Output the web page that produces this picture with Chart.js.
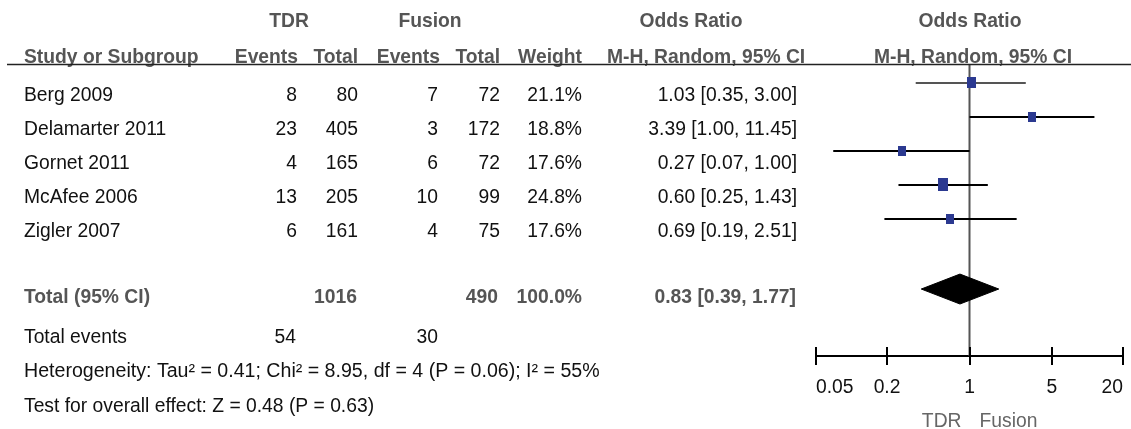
<!DOCTYPE html>
<html>
<head>
<meta charset="utf-8">
<script src="https://cdn.jsdelivr.net/npm/chart.js@4/dist/chart.umd.min.js"></script>
<style>
  html, body { margin: 0; padding: 0; background: #fff; }
  #wrap { position: relative; width: 1131px; height: 429px; }
</style>
</head>
<body>
<div id="wrap"><canvas id="forest"></canvas></div>
<script>
// Forest plot: TDR vs Fusion, odds ratio (M-H, random, 95% CI)

const studies      = ['Berg 2009', 'Delamarter 2011', 'Gornet 2011', 'McAfee 2006', 'Zigler 2007'];
const tdrEvents    = [8, 23, 4, 13, 6];
const tdrTotal     = [80, 405, 165, 205, 161];
const fusionEvents = [7, 3, 6, 10, 4];
const fusionTotal  = [72, 172, 72, 99, 75];
const weights      = [21.1, 18.8, 17.6, 24.8, 17.6];
const oddsRatio    = [1.03, 3.39, 0.27, 0.60, 0.69];
const ciLow        = [0.35, 1.00, 0.07, 0.25, 0.19];
const ciHigh       = [3.00, 11.45, 1.00, 1.43, 2.51];

const pooled       = [0.39, 0.83, 1.77];   // low, OR, high
const totalN       = [1016, 490];          // TDR, Fusion
const totalEvents  = [54, 30];
const xTicks       = [0.05, 0.2, 1, 5, 20];

const heterogeneity = 'Heterogeneity: Tau² = 0.41; Chi² = 8.95, df = 4 (P = 0.06); I² = 55%';
const overallEffect = 'Test for overall effect: Z = 0.48 (P = 0.63)';

// layout helpers (rows on the y scale: studies 0..4, pooled row 6)
const Y_MIN = -0.555, Y_MAX = 8.03, POOLED_ROW = 6.06;
const FONT = '"Liberation Sans", Arial, Helvetica, sans-serif';
const SIZE = 19.3;
const HEAD = '#555';
const INK = '#111';
const SQUARE = '#2b3990';

const fmtOR = (o, l, h) => `${o.toFixed(2)} [${l.toFixed(2)}, ${h.toFixed(2)}]`;

function squareFor(w) {
  const c = document.createElement('canvas');
  c.width = Math.round(2 + w * 0.33);
  c.height = Math.round(c.width * 1.25);
  const g = c.getContext('2d');
  g.fillStyle = SQUARE;
  g.fillRect(0, 0, c.width, c.height);
  return c;
}

const tablePlugin = {
  id: 'forestTable',
  afterDraw(chart) {
    const { ctx } = chart;
    const x = chart.scales.x, y = chart.scales.y;
    ctx.save();

    const text = (s, px, py, align, bold, color, size) => {
      ctx.font = (bold ? 'bold ' : '') + (size || SIZE) + 'px ' + FONT;
      ctx.fillStyle = color || INK;
      ctx.textAlign = align;
      ctx.textBaseline = 'alphabetic';
      ctx.fillText(s, px, py);
    };

    // headers
    text('TDR', 289, 27, 'center', true, HEAD);
    text('Fusion', 430, 27, 'center', true, HEAD);
    text('Odds Ratio', 691, 27, 'center', true, HEAD);
    text('Odds Ratio', 970, 27, 'center', true, HEAD);
    text('Study or Subgroup', 24, 63, 'left', true, HEAD);
    text('Events', 298, 63, 'right', true, HEAD);
    text('Total', 358, 63, 'right', true, HEAD);
    text('Events', 440, 63, 'right', true, HEAD);
    text('Total', 500, 63, 'right', true, HEAD);
    text('Weight', 582, 63, 'right', true, HEAD);
    text('M-H, Random, 95% CI', 607, 63, 'left', true, HEAD);
    text('M-H, Random, 95% CI', 973, 63, 'center', true, HEAD);

    ctx.strokeStyle = '#222';
    ctx.lineWidth = 1.5;
    ctx.beginPath();
    ctx.moveTo(7, 64.5);
    ctx.lineTo(1131, 64.5);
    ctx.stroke();

    // study rows
    studies.forEach((s, i) => {
      const by = y.getPixelForValue(i) + 18;
      text(s, 24, by, 'left');
      text(String(tdrEvents[i]), 297, by, 'right');
      text(String(tdrTotal[i]), 358, by, 'right');
      text(String(fusionEvents[i]), 438, by, 'right');
      text(String(fusionTotal[i]), 500, by, 'right');
      text(weights[i].toFixed(1) + '%', 582, by, 'right');
      text(fmtOR(oddsRatio[i], ciLow[i], ciHigh[i]), 797, by, 'right');
    });

    // pooled row
    const ty = y.getPixelForValue(POOLED_ROW) + 14;
    text('Total (95% CI)', 24, ty, 'left', true, HEAD);
    text(String(totalN[0]), 357, ty, 'right', true, HEAD);
    text(String(totalN[1]), 498, ty, 'right', true, HEAD);
    text('100.0%', 582, ty, 'right', true, HEAD);
    text(fmtOR(pooled[1], pooled[0], pooled[2]), 796, ty, 'right', true, HEAD);

    text('Total events', 24, 343, 'left');
    text(String(totalEvents[0]), 296, 343, 'right');
    text(String(totalEvents[1]), 438, 343, 'right');
    text(heterogeneity, 24, 376.5, 'left', false, INK, 19.6);
    text(overallEffect, 24, 411.5, 'left');

    // upper half of the axis tick marks
    const base = chart.chartArea.bottom;
    ctx.strokeStyle = '#000';
    ctx.lineWidth = 2;
    xTicks.forEach(v => {
      const px = Math.round(x.getPixelForValue(v));
      ctx.beginPath();
      ctx.moveTo(px, base - 9);
      ctx.lineTo(px, base);
      ctx.stroke();
    });

    // favours labels
    const one = x.getPixelForValue(1);
    text('TDR', one - 8, 427, 'right', false, '#666');
    text('Fusion', one + 10, 427, 'left', false, '#666');

    ctx.restore();
  }
};

const ciSets = studies.map((s, i) => ({
  type: 'line',
  label: s,
  data: [{ x: ciLow[i], y: i }, { x: ciHigh[i], y: i }],
  borderColor: i === 0 ? '#555' : '#000',
  borderWidth: 2,
  pointRadius: 0,
  order: 2,
}));

new Chart(document.getElementById('forest'), {
  type: 'scatter',
  data: {
    datasets: [
      {
        type: 'line',
        label: 'no effect',
        data: [{ x: 1, y: Y_MIN }, { x: 1, y: Y_MAX }],
        borderColor: '#555',
        borderWidth: 2,
        pointRadius: 0,
        order: 4,
      },
      ...ciSets,
      {
        label: 'odds ratio',
        data: oddsRatio.map((v, i) => ({ x: v, y: i })),
        pointStyle: (c) => squareFor(weights[c.dataIndex] || 20),
        pointRadius: 6,
        order: 1,
      },
      {
        type: 'line',
        label: 'pooled',
        data: [
          { x: pooled[0], y: POOLED_ROW },
          { x: pooled[1], y: POOLED_ROW - 0.44 },
          { x: pooled[2], y: POOLED_ROW },
          { x: pooled[1], y: POOLED_ROW + 0.44 },
          { x: pooled[0], y: POOLED_ROW },
        ],
        borderColor: '#000',
        backgroundColor: '#000',
        borderWidth: 1,
        fill: 'shape',
        tension: 0,
        pointRadius: 0,
        order: 3,
      },
    ],
  },
  options: {
    responsive: true,
    maintainAspectRatio: false,
    animation: false,
    layout: { padding: { left: 816, right: 8, top: 64, bottom: 19 } },
    plugins: { legend: { display: false }, tooltip: { enabled: false } },
    scales: {
      x: {
        type: 'logarithmic',
        min: 0.05,
        max: 20,
        afterBuildTicks: (axis) => { axis.ticks = xTicks.map(v => ({ value: v })); },
        border: { display: true, color: '#000', width: 2 },
        grid: { drawOnChartArea: false, drawTicks: true, tickLength: 9, color: '#000', lineWidth: 2 },
        ticks: {
          color: INK,
          font: { family: FONT, size: SIZE, lineHeight: 1.5 },
          padding: 8,
          align: 'inner',
          maxRotation: 0,
          autoSkip: false,
          callback: (v) => String(v),
        },
      },
      y: {
        type: 'linear',
        reverse: true,
        min: Y_MIN,
        max: Y_MAX,
        display: false,
      },
    },
  },
  plugins: [tablePlugin],
});
</script>
</body>
</html>
